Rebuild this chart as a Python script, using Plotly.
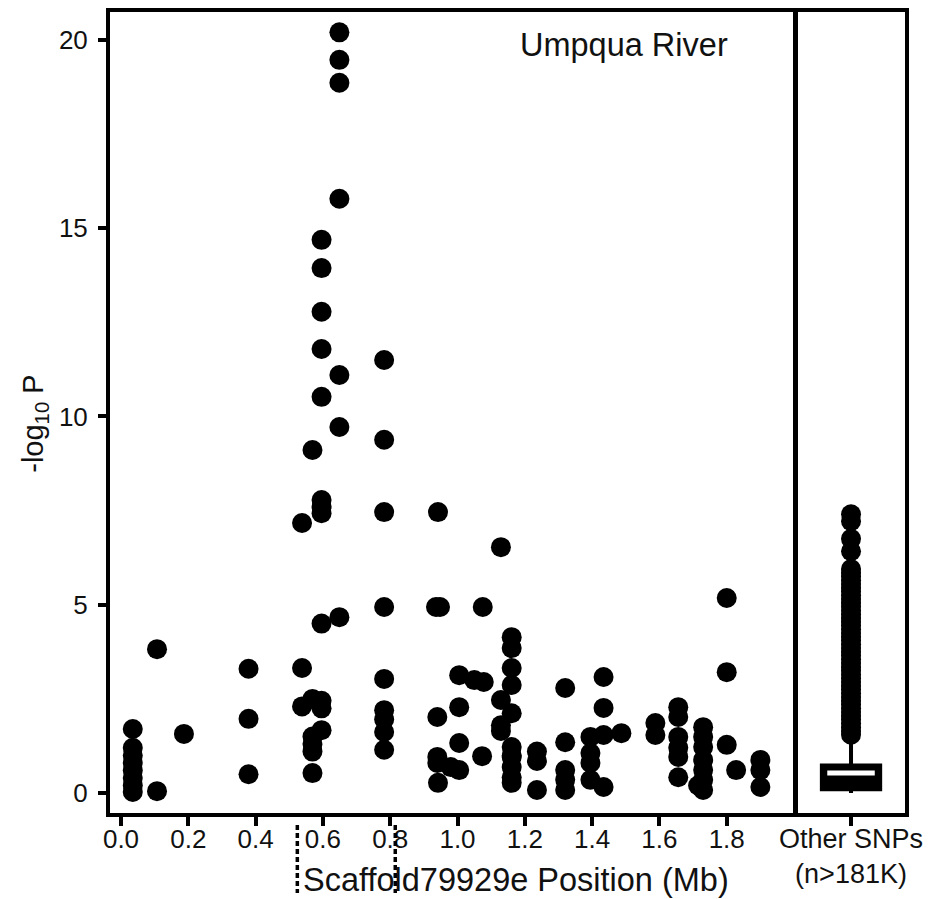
import plotly.graph_objects as go

# ---------------- data ----------------
pos_mb = [
    0.035, 0.035, 0.035, 0.035, 0.035, 0.035, 0.035, 0.035,
    0.107, 0.107,
    0.187,
    0.379, 0.379, 0.379,
    0.538, 0.538, 0.538,
    0.569, 0.569, 0.569, 0.569, 0.569, 0.569,
    0.596, 0.596, 0.596, 0.596, 0.596, 0.596, 0.596, 0.596, 0.596, 0.596, 0.596, 0.596,
    0.649, 0.649, 0.649, 0.649, 0.649, 0.649, 0.649,
    0.782, 0.782, 0.782, 0.782, 0.782, 0.782, 0.782, 0.782, 0.782,
    0.942, 0.936, 0.948, 0.940, 0.940, 0.940, 0.942,
    0.980, 1.005, 1.005, 1.005, 1.005,
    1.050, 1.078, 1.073, 1.075,
    1.129, 1.129, 1.129, 1.129,
    1.161, 1.161, 1.161, 1.161, 1.161, 1.161, 1.161, 1.161, 1.161, 1.161, 1.161,
    1.236, 1.236, 1.236,
    1.320, 1.320, 1.320, 1.320, 1.320,
    1.395, 1.395, 1.395, 1.395, 1.434, 1.434, 1.434, 1.434,
    1.487,
    1.588, 1.588,
    1.656, 1.656, 1.656, 1.656, 1.656, 1.656,
    1.730, 1.730, 1.730, 1.730, 1.730, 1.730, 1.730, 1.715,
    1.800, 1.800, 1.800, 1.828,
    1.900, 1.900, 1.900,
]
neglog10p = [
    1.70, 1.20, 1.00, 0.80, 0.60, 0.40, 0.20, 0.03,
    3.82, 0.05,
    1.57,
    3.30, 1.97, 0.50,
    7.17, 3.32, 2.30,
    9.11, 2.50, 1.50, 1.30, 1.10, 0.53,
    14.69, 13.94, 12.78, 11.79, 10.52, 7.78, 7.60, 7.43, 4.50, 2.45, 2.25, 1.67,
    20.20, 19.47, 18.86, 15.78, 11.10, 9.72, 4.67,
    11.50, 9.38, 7.46, 4.94, 3.03, 2.20, 1.95, 1.62, 1.15,
    7.46, 4.94, 4.94, 2.02, 0.96, 0.80, 0.27,
    0.69, 3.13, 2.28, 1.33, 0.61,
    3.00, 2.95, 0.98, 4.94,
    6.53, 2.47, 1.80, 1.65,
    4.14, 3.85, 3.32, 2.87, 2.12, 1.22, 0.96, 0.69, 0.42, 0.27, 1.00,
    1.10, 0.85, 0.08,
    2.79, 1.35, 0.61, 0.35, 0.08,
    1.49, 1.06, 0.80, 0.35, 3.08, 2.26, 1.54, 0.16,
    1.59,
    1.86, 1.54,
    2.28, 2.02, 1.49, 1.20, 0.96, 0.42,
    1.75, 1.49, 1.22, 0.88, 0.61, 0.35, 0.08, 0.20,
    5.18, 3.21, 1.28, 0.61,
    0.88, 0.61, 0.16,
]

x_ticks = [0.0, 0.2, 0.4, 0.6, 0.8, 1.0, 1.2, 1.4, 1.6, 1.8]
y_ticks = [0, 5, 10, 15, 20]

other_label = "Other SNPs<br>(n>181K)"
other_q1 = 0.10
other_median = 0.53
other_q3 = 0.73
other_lowerfence = 0.0
other_upperfence = 1.30
other_outliers = [
    7.40, 7.22, 6.75, 6.42,
    5.95, 5.85, 5.75, 5.65, 5.55, 5.45, 5.35, 5.25, 5.15, 5.05,
    4.95, 4.85, 4.75, 4.65, 4.55, 4.45, 4.35, 4.25, 4.15, 4.05,
    3.95, 3.85, 3.75, 3.65, 3.55, 3.45, 3.35, 3.25, 3.15, 3.05,
    2.95, 2.85, 2.75, 2.65, 2.55, 2.45, 2.35, 2.25, 2.15, 2.05,
    1.95, 1.85, 1.75, 1.65, 1.55,
]

highlight_region_mb = [0.524, 0.815]

title_text = "Umpqua River"
x_title = "Scaffold79929e Position (Mb)"
y_title = "-log<sub>10</sub> P"

# ---------------- figure ----------------
FONT = "Liberation Sans, Arial, Helvetica, sans-serif"
TXT = "#111111"

fig = go.Figure()

fig.add_trace(go.Scatter(
    x=pos_mb, y=neglog10p, mode="markers",
    marker=dict(color="black", size=20, line=dict(width=0)),
    xaxis="x", yaxis="y", showlegend=False, hoverinfo="x+y",
))

fig.add_trace(go.Box(
    x=[0], q1=[other_q1], median=[other_median], q3=[other_q3],
    lowerfence=[other_lowerfence], upperfence=[other_upperfence],
    width=0.54, whiskerwidth=0, boxpoints=False,
    fillcolor="black", line=dict(color="black", width=4),
    xaxis="x2", yaxis="y2", showlegend=False,
))
fig.add_trace(go.Scatter(
    x=[-0.22, 0.22], y=[other_median, other_median], mode="lines",
    line=dict(color="white", width=5),
    xaxis="x2", yaxis="y2", showlegend=False, hoverinfo="skip",
))
fig.add_trace(go.Scatter(
    x=[0] * len(other_outliers), y=other_outliers, mode="markers",
    marker=dict(color="black", size=20, line=dict(width=0)),
    xaxis="x2", yaxis="y2", showlegend=False,
))

yr = [-0.53, 20.74]
LW = 4

fig.update_layout(
    width=939, height=899,
    margin=dict(l=110, r=34, t=12, b=86, pad=0, autoexpand=False),
    paper_bgcolor="white", plot_bgcolor="white",
    font=dict(family=FONT, color=TXT, size=25),
    showlegend=False,
    xaxis=dict(
        domain=[0, 0.8604], range=[-0.0327, 2.0],
        tickvals=x_ticks, ticktext=[f"{v:.1f}" for v in x_ticks],
        ticks="outside", ticklen=9, tickwidth=3.5, tickcolor="black",
        ticklabelstandoff=-9, automargin=False,
        showline=True, linecolor="black", linewidth=LW, mirror=True,
        showgrid=False, zeroline=False,
        tickfont=dict(size=26, color=TXT, family=FONT),
        anchor="y",
    ),
    yaxis=dict(
        range=yr, tickvals=y_ticks,
        ticks="outside", ticklen=8, tickwidth=3.5, tickcolor="black",
        ticklabelstandoff=5, automargin=False,
        showline=True, linecolor="black", linewidth=LW, mirror=True,
        showgrid=False, zeroline=False,
        tickfont=dict(size=26, color=TXT, family=FONT),
        anchor="x",
    ),
    xaxis2=dict(
        domain=[0.8642, 1.0], range=[-0.5, 0.5],
        tickvals=[0], ticktext=[other_label],
        ticks="outside", ticklen=9, tickwidth=3.5, tickcolor="black",
        ticklabelstandoff=-10, automargin=False,
        showline=True, linecolor="black", linewidth=3.5, mirror=True,
        showgrid=False, zeroline=False,
        tickfont=dict(size=27, color=TXT, family=FONT),
        anchor="y2",
    ),
    yaxis2=dict(
        range=yr, anchor="x2", matches="y", automargin=False,
        showticklabels=False, ticks="",
        showline=True, linecolor="black", linewidth=3.5, mirror=True,
        showgrid=False, zeroline=False,
    ),
)

# dashed highlight markers below the axis
for xv in highlight_region_mb:
    fig.add_shape(type="line", xref="x", yref="paper",
                  x0=xv, x1=xv, y0=-0.015, y1=-0.1,
                  line=dict(color="black", width=3.5, dash="5px,3px"))

fig.add_annotation(text=title_text, xref="paper", yref="paper",
                   x=0.6465, y=0.9588, xanchor="center", yanchor="middle",
                   showarrow=False, font=dict(size=32.5, color=TXT, family=FONT))
fig.add_annotation(text=x_title, xref="paper", yref="paper",
                   x=0.5107, y=-0.0836, xanchor="center", yanchor="middle",
                   showarrow=False, font=dict(size=32.5, color=TXT, family=FONT))
fig.add_annotation(text=y_title, xref="paper", yref="paper",
                   x=-0.0943, y=0.486, xanchor="center", yanchor="middle",
                   textangle=-90, showarrow=False,
                   font=dict(size=29, color=TXT, family=FONT))

fig.write_html("out.html")
